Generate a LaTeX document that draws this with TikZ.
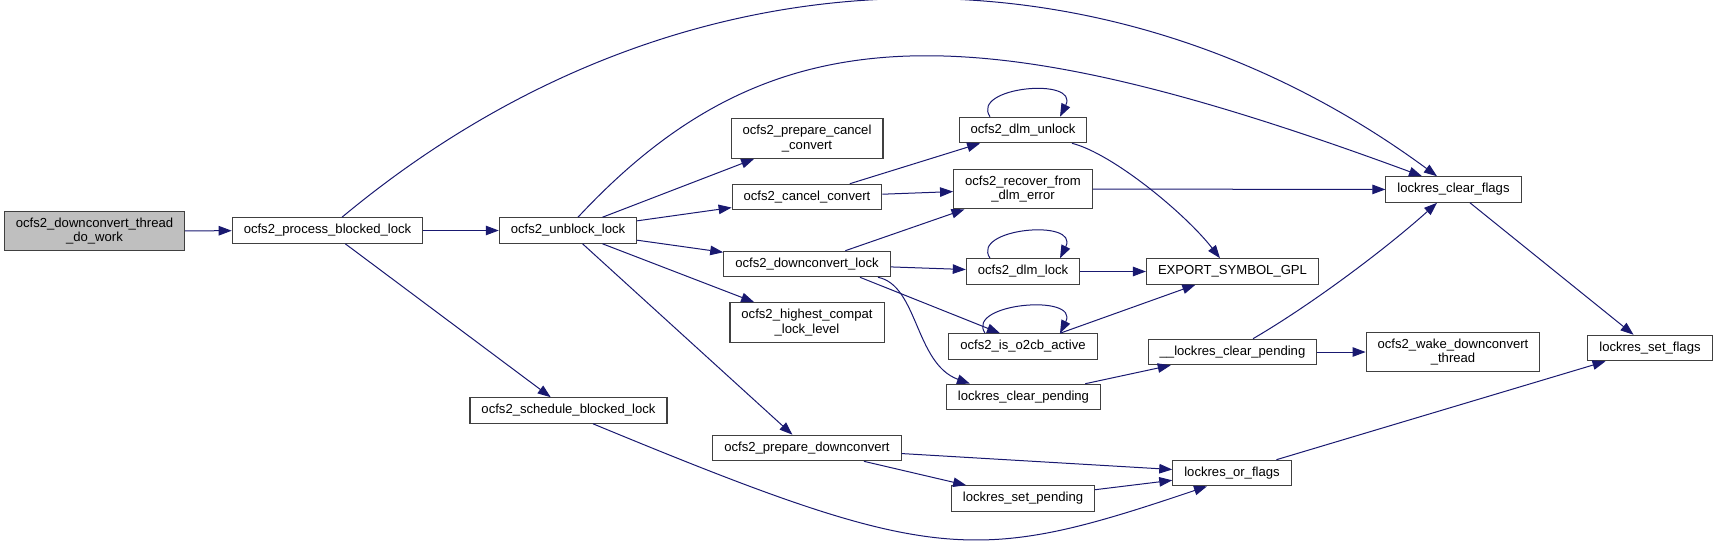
\documentclass[tikz,border=0pt]{standalone}
\usepackage{fontspec}
\setmainfont{Liberation Sans}
\usetikzlibrary{arrows.meta}
\definecolor{edgeblue}{HTML}{191970}
\definecolor{rootgray}{HTML}{BFBFBF}
\definecolor{boxline}{HTML}{404040}
\tikzset{
  fn/.style={draw=boxline,line width=1.1pt,fill=white,inner xsep=11.5pt,inner ysep=6.5pt,
    minimum height=25.5pt,align=center,font=\fontsize{13.1}{14.5}\selectfont},
  root/.style={fn,fill=rootgray},
  call/.style={edgeblue,line width=1pt,-{Triangle[length=13pt,width=9.5pt]}}
}

\begin{document}
\begin{tikzpicture}[x=1pt,y=-1pt]
  \useasboundingbox (0,0) rectangle (1717,542);
  \node[root] (dowork) at (94.5,231) {ocfs2\_downconvert\_thread\\\_do\_work};
  \node[fn] (pbl) at (327.5,230.5) {ocfs2\_process\_blocked\_lock};
  \node[fn] (ubl) at (568,230.5) {ocfs2\_unblock\_lock};
  \node[fn] (sbl) at (568.5,410.5) {ocfs2\_schedule\_blocked\_lock};
  \node[fn] (pcc) at (807,138.5) {ocfs2\_prepare\_cancel\\\_convert};
  \node[fn] (cc) at (807,197) {ocfs2\_cancel\_convert};
  \node[fn] (dcl) at (807,264) {ocfs2\_downconvert\_lock};
  \node[fn] (hcl) at (807,322.5) {ocfs2\_highest\_compat\\\_lock\_level};
  \node[fn] (pdc) at (807,448) {ocfs2\_prepare\_downconvert};
  \node[fn] (dlmu) at (1023,130) {ocfs2\_dlm\_unlock};
  \node[fn] (rec) at (1023,189) {ocfs2\_recover\_from\\\_dlm\_error};
  \node[fn] (dlml) at (1023,271.5) {ocfs2\_dlm\_lock};
  \node[fn] (o2cb) at (1023,346.5) {ocfs2\_is\_o2cb\_active};
  \node[fn] (lcp) at (1023.5,397) {lockres\_clear\_pending};
  \node[fn] (lsp) at (1023,498.5) {lockres\_set\_pending};
  \node[fn] (esg) at (1232.5,271.5) {EXPORT\_SYMBOL\_GPL};
  \node[fn] (ulcp) at (1232.5,352) {\_\_lockres\_clear\_pending};
  \node[fn] (lof) at (1232,473) {lockres\_or\_flags};
  \node[fn] (lcf) at (1453.5,189.5) {lockres\_clear\_flags};
  \node[fn] (wake) at (1453,352) {ocfs2\_wake\_downconvert\\\_thread};
  \node[fn] (lsf) at (1650,348) {lockres\_set\_flags};
  % calls
  \draw[call] (dowork) -- (pbl);
  \draw[call] ([xshift=14.5pt]pbl.north) .. controls +(340,-283) and +(-329,-242) .. ([xshift=-16.5pt]lcf.north);
  \draw[call] (pbl) -- (ubl);
  \draw[call] (pbl) -- (sbl);
  \draw[call] ([xshift=10pt]ubl.north) .. controls +(193,-207) and +(-450,-166) .. ([xshift=-31.5pt]lcf.north);
  \draw[call] (ubl) -- (pcc);
  \draw[call] (ubl) -- (cc);
  \draw[call] (ubl) -- (dcl);
  \draw[call] (ubl) -- (hcl);
  \draw[call] (ubl) -- (pdc);
  \draw[call] (cc) -- (dlmu);
  \draw[call] (cc) -- (rec);
  \draw[call] (dcl) -- (rec);
  \draw[call] (dcl) -- (dlml);
  \draw[call] ([xshift=53pt]dcl.south) -- ([xshift=-23pt]o2cb.north);
  \draw[call] ([xshift=71pt]dcl.south) .. controls +(40,8) and +(-55,-20) .. ([xshift=-53.5pt]lcp.north);
  \draw[call] ([xshift=-33pt]dlmu.north) .. controls +(-20,-30) and +(20,-40) .. ([xshift=37pt]dlmu.north);
  \draw[call] ([xshift=49pt]dlmu.south) .. controls +(40,10) and +(-35,-45) .. ([xshift=-12.5pt]esg.north);
  \draw[call] (rec) -- (lcf);
  \draw[call] ([xshift=-33pt]dlml.north) .. controls +(-20,-30) and +(20,-40) .. ([xshift=37pt]dlml.north);
  \draw[call] (dlml) -- (esg);
  \draw[call] ([xshift=-38pt]o2cb.north) .. controls +(-20,-30) and +(20,-40) .. ([xshift=37pt]o2cb.north);
  \draw[call] (o2cb) -- (esg);
  \draw[call] (lcp) -- (ulcp);
  \draw[call] ([xshift=20.5pt]ulcp.north) .. controls +(60,-35) and +(-50,45) .. ([xshift=-16.5pt]lcf.south);
  \draw[call] (ulcp) -- (wake);
  \draw[call] (lcf) -- (lsf);
  \draw[call] ([xshift=24.5pt]sbl.south) .. controls +(342,141.5) and +(-233,78.5) .. ([xshift=-25pt]lof.south);
  \draw[call] (pdc) -- (lof);
  \draw[call] (pdc) -- (lsp);
  \draw[call] (lsp) -- (lof);
  \draw[call] (lof) -- (lsf);
\end{tikzpicture}
\end{document}
